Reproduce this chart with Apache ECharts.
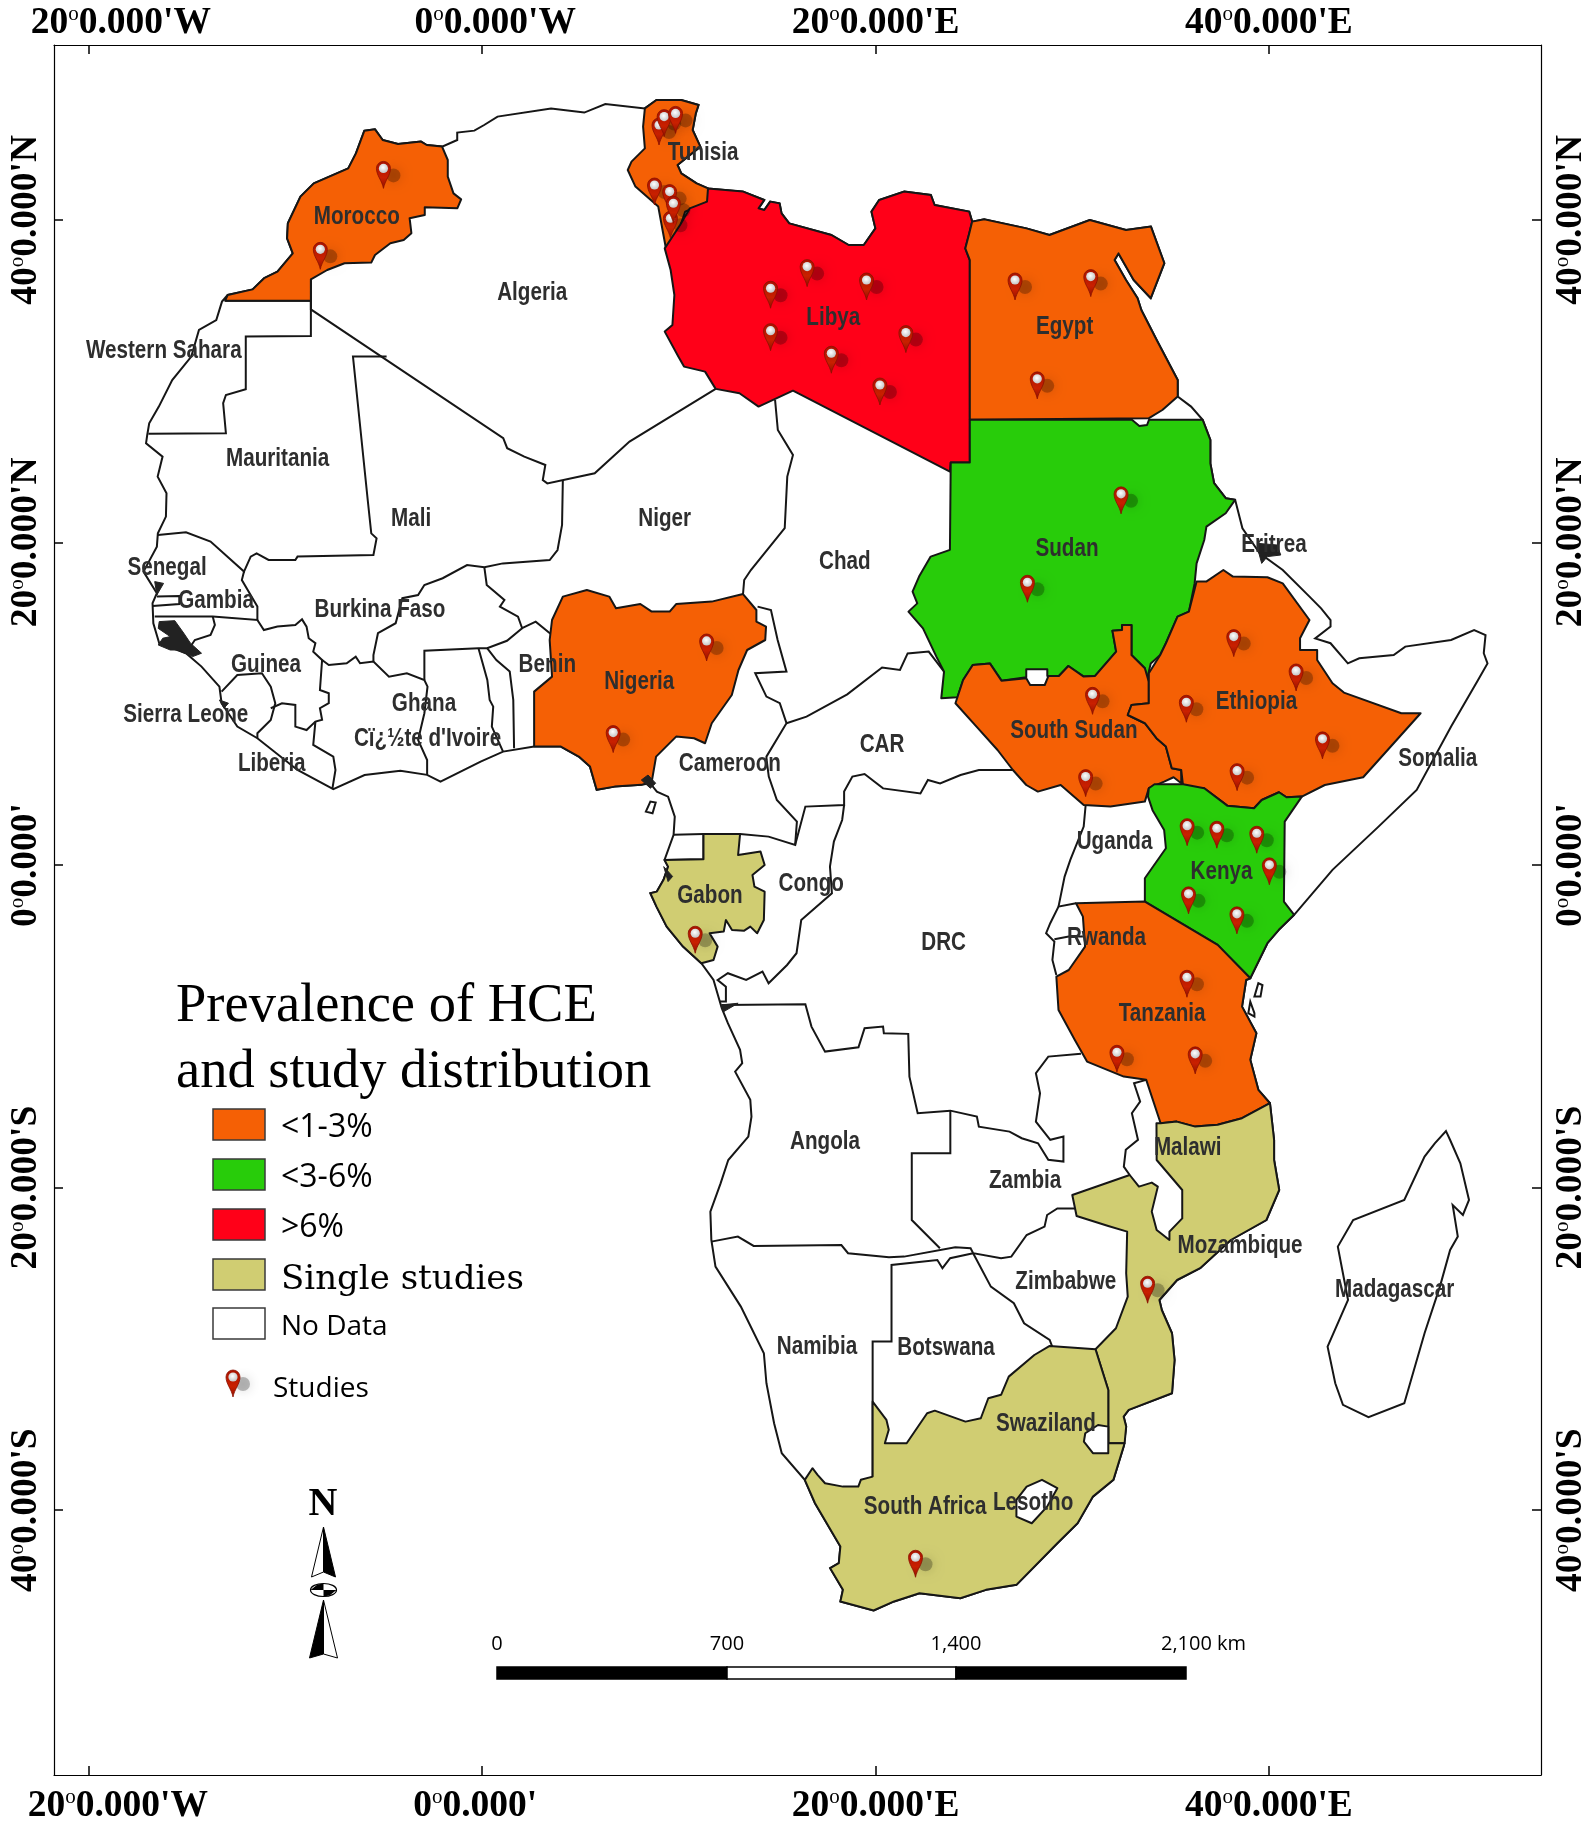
<!DOCTYPE html>
<html><head><meta charset="utf-8"><style>html,body{margin:0;padding:0;background:#fff}#c{width:1594px;height:1821px}</style>
<script src="https://cdn.jsdelivr.net/npm/echarts@6/dist/echarts.min.js"></script></head><body><div id="c"></div><script>
const africaCoast=[[-5.99,45.53],[-5.45,45.61],[-5.06,44.95],[-4.28,44.7],[-3.11,44.85],[-2.82,44.64],[-2.04,44.54],[-1.27,44.95],[-1.27,45.41],[-0.4,45.53],[0.1,45.88],[0.78,46.4],[3.5,46.91],[5.19,46.65],[6.26,47.18],[8.27,46.91],[8.86,47.43],[10.12,47.43],[11.0,47.12],[10.86,46.6],[10.7,45.57],[11.09,44.54],[9.93,43.4],[10.12,42.88],[10.9,42.26],[11.48,41.95],[13.27,41.75],[14.34,41.23],[14.05,40.71],[14.34,40.61],[14.64,41.13],[15.12,41.02],[15.22,40.4],[15.61,39.78],[17.75,39.06],[18.63,38.44],[19.4,38.44],[19.99,39.47],[19.79,40.51],[20.18,41.23],[21.45,41.75],[22.81,41.54],[23.0,40.92],[24.76,40.51],[24.91,39.89],[25.53,40.03],[27.67,39.47],[28.84,39.06],[30.89,39.99],[32.73,39.37],[34.0,39.58],[34.68,37.31],[33.99,35.14],[33.12,36.27],[32.35,37.92],[32.15,37.51],[32.73,36.27],[33.32,35.14],[33.51,34.41],[34.29,32.55],[35.36,30.07],[35.36,29.04],[36.04,28.42],[36.63,27.6],[37.02,26.36],[37.02,24.9],[37.21,23.67],[37.8,22.74],[38.28,22.64],[38.65,20.88],[39.53,19.32],[40.7,18.29],[42.06,16.64],[42.65,15.91],[43.13,15.19],[43.13,14.78],[42.35,14.05],[43.13,13.75],[44.01,12.5],[44.59,12.82],[46.34,13.02],[46.93,13.54],[49.26,13.95],[50.43,14.57],[51.01,14.26],[50.92,13.13],[51.11,12.5],[50.63,11.47],[49.26,8.58],[47.51,4.65],[45.57,2.38],[43.23,-0.3],[41.28,-3.09],[40.5,-4.02],[39.92,-4.85],[39.05,-7.02],[38.84,-7.13],[38.63,-8.78],[39.36,-10.43],[39.05,-12.08],[39.46,-13.94],[40.05,-14.77],[40.26,-17.05],[40.26,-18.29],[40.52,-20.15],[39.87,-22.01],[38.06,-23.25],[36.5,-25.0],[35.33,-25.73],[34.43,-26.97],[34.55,-27.59],[35.07,-29.03],[35.2,-30.69],[35.07,-32.75],[32.87,-33.78],[32.61,-34.2],[32.74,-34.82],[32.61,-36.06],[32.09,-38.12],[31.05,-39.16],[30.27,-40.81],[29.24,-42.05],[27.16,-44.63],[25.61,-44.94],[24.31,-45.46],[22.23,-45.15],[20.94,-45.66],[19.9,-46.22],[18.21,-45.66],[18.34,-44.94],[17.69,-43.6],[18.13,-43.29],[18.21,-42.25],[16.92,-39.57],[16.4,-38.12],[15.23,-36.47],[14.84,-34.61],[14.45,-32.13],[14.32,-30.27],[13.15,-27.38],[11.86,-24.9],[11.65,-23.25],[11.6,-21.49],[12.12,-19.74],[12.51,-18.29],[13.53,-16.84],[13.69,-15.6],[13.63,-14.56],[12.86,-12.81],[13.22,-12.29],[13.11,-11.46],[12.49,-9.81],[12.18,-8.88],[11.76,-7.13],[11.14,-6.09],[10.21,-5.06],[9.38,-3.82],[8.86,-2.58],[8.55,-1.75],[8.88,-1.65],[9.22,-0.92],[9.45,-0.1],[9.27,0.31],[9.73,1.87],[9.79,3.0],[9.45,4.24],[8.88,4.55],[8.54,5.07],[8.09,4.97],[6.73,4.86],[5.82,4.66],[5.48,6.1],[4.91,6.72],[4.0,7.34],[2.64,7.34],[1.06,7.03],[-0.08,6.41],[-2.12,5.17],[-2.8,5.59],[-4.16,5.85],[-5.98,5.58],[-7.57,4.7],[-9.39,5.89],[-11.43,7.86],[-12.45,8.58],[-13.25,10.03],[-13.36,11.06],[-14.27,12.3],[-15.06,13.13],[-16.42,13.75],[-16.72,14.99],[-16.76,16.23],[-16.54,16.85],[-17.22,18.19],[-16.54,19.74],[-16.49,20.56],[-16.08,21.6],[-16.05,23.05],[-16.5,24.08],[-16.25,25.32],[-17.09,26.15],[-17.03,26.66],[-16.93,27.39],[-16.44,28.42],[-15.76,30.07],[-14.79,31.52],[-14.4,33.17],[-13.52,33.79],[-13.23,34.93],[-12.94,35.34],[-11.67,35.69],[-11.09,36.38],[-10.41,36.79],[-9.63,37.92],[-9.92,38.85],[-9.88,39.79],[-9.24,41.44],[-8.56,42.26],[-6.81,43.19],[-6.42,44.12]];
const madagascar=[[49.0,-16.5],[49.21,-17.05],[49.73,-18.5],[50.17,-20.77],[49.86,-21.7],[49.34,-21.08],[49.6,-23.04],[49.21,-23.87],[48.69,-26.14],[47.91,-29.03],[46.88,-33.37],[45.06,-34.24],[43.76,-33.47],[43.37,-32.13],[42.98,-29.86],[44.02,-26.97],[43.5,-23.66],[44.28,-22.01],[46.88,-20.77],[47.91,-18.08],[48.43,-17.26]];
const bioko=[[8.32,3.31],[8.55,3.93],[8.82,3.87],[8.66,3.21]];
const pemba=[[39.26,-8.16],[39.46,-7.33],[39.67,-7.44],[39.57,-8.16]];
const zanzibar=[[38.95,-9.19],[39.05,-8.47],[39.26,-9.19],[39.26,-9.4]];

const morocco=[[-5.99,45.53],[-5.45,45.61],[-5.06,44.95],[-4.28,44.7],[-3.11,44.85],[-2.82,44.64],[-2.04,44.54],[-1.75,43.71],[-1.75,42.68],[-1.46,41.64],[-1.07,41.27],[-1.26,40.72],[-2.92,40.78],[-2.92,40.3],[-3.69,40.1],[-3.6,39.17],[-3.99,38.75],[-4.67,38.55],[-5.45,37.82],[-5.64,37.35],[-7.0,37.31],[-7.88,36.89],[-8.71,36.31],[-8.71,34.99],[-13.07,34.99],[-12.94,35.34],[-11.67,35.69],[-11.09,36.38],[-10.41,36.79],[-9.63,37.92],[-9.92,38.85],[-9.88,39.79],[-9.24,41.44],[-8.56,42.26],[-6.81,43.19],[-6.42,44.12]];
const tunisia=[[8.27,46.91],[8.86,47.43],[10.12,47.43],[11.0,47.12],[10.86,46.6],[10.7,45.57],[11.09,44.54],[9.93,43.4],[10.12,42.88],[10.9,42.26],[11.48,41.95],[11.48,41.13],[10.32,40.51],[10.12,39.79],[10.12,38.75],[9.34,38.24],[8.95,40.82],[7.79,42.06],[7.4,43.09],[7.59,43.61],[8.27,44.43],[8.18,45.78]];
const libya=[[11.48,41.95],[13.27,41.75],[14.34,41.23],[14.05,40.71],[14.34,40.61],[14.64,41.13],[15.12,41.02],[15.22,40.4],[15.61,39.78],[17.75,39.06],[18.63,38.44],[19.4,38.44],[19.99,39.47],[19.79,40.51],[20.18,41.23],[21.45,41.75],[22.81,41.54],[23.0,40.92],[24.76,40.51],[24.91,39.89],[24.76,39.16],[24.56,38.23],[24.79,37.5],[24.79,24.95],[23.82,24.95],[23.78,24.39],[15.8,29.41],[14.05,28.42],[13.08,29.25],[11.87,29.52],[11.33,30.59],[10.26,30.9],[9.97,31.52],[9.28,33.07],[9.67,33.48],[9.77,35.34],[9.58,36.89],[9.28,38.23],[10.06,39.68],[10.55,40.71],[11.43,41.13]];
const egypt=[[24.91,39.89],[25.53,40.03],[27.67,39.47],[28.84,39.06],[30.89,39.99],[32.73,39.37],[34.0,39.58],[34.68,37.31],[33.99,35.14],[33.12,36.27],[32.35,37.92],[32.15,37.51],[32.73,36.27],[33.32,35.14],[33.51,34.41],[34.29,32.55],[35.36,30.07],[35.36,29.04],[34.58,28.21],[33.9,27.7],[24.79,27.6],[24.79,37.5],[24.56,38.23],[24.76,39.16]];
const sudan=[[24.79,27.6],[33.03,27.6],[33.41,27.22],[33.8,27.28],[33.9,27.6],[36.63,27.6],[37.02,26.36],[37.02,24.9],[37.21,23.67],[37.8,22.74],[38.28,22.64],[37.8,21.81],[36.82,20.98],[36.71,20.15],[36.32,18.7],[36.22,17.46],[35.93,15.71],[35.35,15.4],[34.76,13.75],[34.47,13.02],[33.99,12.5],[33.79,11.47],[33.69,12.2],[33.01,13.02],[33.01,14.88],[32.53,14.88],[32.53,14.57],[32.04,14.53],[32.23,13.23],[31.16,11.72],[30.58,11.68],[29.8,12.34],[29.32,11.72],[28.73,11.72],[28.73,12.13],[27.66,12.13],[27.66,11.64],[26.4,11.43],[25.81,12.5],[24.94,12.4],[24.45,11.47],[24.16,10.4],[23.34,10.34],[23.48,11.99],[23.09,12.92],[22.41,14.67],[21.67,15.71],[22.12,16.22],[21.88,16.95],[22.21,17.88],[22.8,19.12],[23.78,19.54],[23.82,24.95],[24.79,24.95]];
const southSudan=[[24.94,12.4],[25.81,12.5],[26.4,11.43],[27.66,11.58],[27.86,11.16],[28.6,11.16],[28.79,11.72],[29.32,11.72],[29.8,12.34],[30.58,11.68],[31.16,11.72],[32.23,13.23],[32.04,14.53],[32.53,14.57],[32.53,14.88],[33.01,14.88],[33.01,13.02],[33.69,12.2],[33.89,11.37],[33.89,10.03],[33.01,9.92],[32.82,9.3],[33.69,8.79],[34.28,7.86],[34.76,7.34],[35.06,6.0],[35.54,5.89],[35.54,5.07],[35.15,5.44],[34.67,5.17],[33.89,4.76],[33.69,3.93],[31.94,3.62],[30.58,3.72],[29.41,4.96],[28.25,4.55],[27.66,4.96],[26.98,5.89],[26.2,7.13],[25.13,8.58],[24.06,10.03],[24.45,11.47]];
const ethiopia=[[36.32,17.57],[36.81,17.57],[37.68,18.29],[38.17,17.88],[39.92,17.84],[40.7,17.46],[42.06,15.19],[41.58,14.06],[41.58,13.33],[42.45,13.33],[42.45,12.71],[43.23,11.27],[43.81,10.69],[46.73,9.41],[47.71,9.41],[44.79,5.44],[42.84,4.96],[41.67,4.24],[40.89,4.2],[40.51,4.51],[39.63,4.03],[39.24,3.52],[37.88,3.68],[36.71,4.76],[35.64,4.82],[35.54,5.89],[35.06,6.0],[34.76,7.34],[34.28,7.86],[33.69,8.79],[32.82,9.3],[33.01,9.92],[33.89,10.03],[33.89,11.89],[34.47,13.02],[34.76,13.75],[35.35,15.4],[35.93,15.71]];
const kenya=[[33.89,4.76],[34.18,5.01],[35.64,5.01],[36.71,4.76],[37.88,3.68],[39.24,3.52],[39.63,4.03],[40.51,4.51],[40.89,4.2],[41.67,4.24],[40.8,2.69],[40.76,-2.27],[41.28,-3.09],[40.5,-4.02],[39.92,-4.85],[39.05,-7.02],[37.39,-4.95],[33.69,-2.27],[33.69,-0.82],[34.76,1.04],[34.67,2.17],[34.08,3.4],[33.85,4.24]];
const tanzania=[[30.19,-2.37],[33.69,-2.27],[37.39,-4.95],[39.05,-7.02],[38.84,-7.13],[38.63,-8.78],[39.36,-10.43],[39.05,-12.08],[39.46,-13.94],[40.05,-14.77],[38.63,-15.7],[37.39,-16.11],[36.25,-16.22],[35.31,-15.91],[34.49,-16.01],[33.76,-13.32],[32.62,-13.12],[30.75,-12.19],[30.13,-10.85],[29.3,-8.99],[29.19,-6.92],[29.82,-6.51],[30.65,-5.06],[30.54,-3.2]];
const nigeria=[[4.1,16.64],[5.32,17.05],[6.46,16.64],[6.8,15.92],[8.04,16.18],[8.62,15.71],[9.53,15.71],[9.86,16.18],[11.67,16.33],[13.26,16.8],[13.94,15.81],[13.94,15.09],[14.43,14.78],[14.39,13.95],[13.47,13.33],[13.03,12.09],[12.69,10.54],[11.67,8.79],[11.33,7.55],[10.77,7.86],[9.86,7.96],[8.84,6.72],[8.62,5.17],[8.09,4.97],[6.73,4.86],[5.82,4.66],[5.48,6.1],[4.91,6.72],[4.0,7.34],[2.64,7.34],[2.64,10.75],[3.55,11.68],[3.43,13.95],[3.55,15.19]];
const gabon=[[11.25,1.92],[13.11,1.92],[13.01,0.62],[14.15,0.83],[14.36,0.0],[13.74,-0.62],[13.84,-1.34],[14.36,-1.65],[14.32,-3.41],[13.98,-4.23],[13.63,-3.82],[13.32,-4.07],[12.7,-4.03],[12.39,-3.41],[12.28,-4.13],[11.56,-4.23],[11.97,-5.06],[11.76,-5.89],[11.14,-6.09],[10.21,-5.06],[9.38,-3.82],[8.86,-2.58],[8.55,-1.75],[8.88,-1.65],[9.22,-0.92],[9.45,-0.1],[9.27,0.31],[11.25,0.35]];
const mozambique=[[34.28,-16.01],[34.49,-16.01],[35.31,-15.91],[36.25,-16.22],[37.39,-16.11],[38.63,-15.7],[40.05,-14.77],[40.26,-17.05],[40.26,-18.29],[40.52,-20.15],[39.87,-22.01],[38.06,-23.25],[36.5,-25.0],[35.33,-25.73],[34.43,-26.97],[34.55,-27.59],[35.07,-29.03],[35.2,-30.69],[35.07,-32.75],[32.87,-33.78],[32.61,-34.2],[32.74,-34.82],[32.66,-35.85],[31.83,-35.85],[31.83,-32.55],[31.18,-30.02],[32.22,-28.72],[32.82,-26.76],[32.74,-25.31],[32.79,-22.73],[31.83,-22.38],[30.22,-21.76],[30.0,-20.46],[32.92,-19.22],[33.39,-19.94],[34.04,-19.69],[34.35,-19.94],[34.04,-21.49],[34.29,-22.63],[34.94,-23.25],[34.94,-22.73],[35.59,-21.91],[35.59,-20.15],[34.29,-18.29]];
const southAfrica=[[19.85,-33.27],[20.55,-34.4],[20.67,-35.02],[20.47,-35.85],[21.58,-35.85],[22.62,-33.99],[23.01,-33.83],[24.57,-34.51],[25.35,-34.3],[25.73,-33.06],[26.38,-32.85],[26.77,-31.72],[28.07,-30.38],[28.85,-29.82],[31.18,-30.02],[31.83,-32.55],[31.83,-35.85],[32.66,-35.85],[32.61,-36.06],[32.09,-38.12],[31.05,-39.16],[30.27,-40.81],[29.24,-42.05],[27.16,-44.63],[25.61,-44.94],[24.31,-45.46],[22.23,-45.15],[20.94,-45.66],[19.9,-46.22],[18.21,-45.66],[18.34,-44.94],[17.69,-43.6],[18.13,-43.29],[18.21,-42.25],[16.92,-39.57],[16.4,-38.12],[16.79,-37.4],[17.05,-37.81],[17.43,-38.33],[18.34,-38.54],[19.12,-38.54],[19.25,-38.12],[19.85,-37.92]];
const lesotho=[[28.46,-38.12],[29.24,-38.64],[28.72,-39.78],[27.94,-40.81],[27.16,-40.4],[27.16,-39.36],[27.68,-38.54]];
const swaziland=[[31.31,-34.72],[31.83,-34.82],[31.83,-36.47],[31.05,-36.47],[30.59,-35.75],[30.66,-35.23]];

const westernSaharaBorder=[[-13.07,34.99],[-8.71,34.99],[-8.71,32.8],[-12.02,32.76],[-12.02,29.5],[-13.03,29.14],[-13.17,28.63],[-13.03,26.77],[-16.97,26.73]];
const algeriaSouthBorder=[[-8.71,36.31],[-8.71,34.45],[1.07,26.46],[1.27,25.84],[2.14,25.32],[3.21,24.8],[3.08,23.87],[3.31,23.66],[5.72,24.29],[7.49,26.25],[11.87,29.52]];
const maliWestBorder=[[-4.86,31.52],[-6.57,31.52],[-5.82,22.63],[-5.64,20.56],[-5.37,20.25],[-5.53,19.22],[-9.39,19.12],[-9.5,18.91],[-10.86,18.91],[-11.47,19.32],[-11.77,19.12],[-12.11,18.19],[-13.81,20.05],[-15.06,20.63],[-16.49,20.46]];
const senegalSouthBorder=[[-12.11,18.19],[-12.22,17.67],[-11.43,16.02],[-11.43,15.19],[-13.7,15.4],[-16.65,15.4]];
const gambiaBorder=[[-16.54,16.64],[-15.4,16.68],[-15.4,16.18],[-16.76,16.06]];
const bissauBorder=[[-13.7,15.4],[-13.59,14.88],[-13.81,14.26],[-14.61,13.95],[-15.06,13.13]];
const guineaBorder=[[-11.43,15.19],[-11.1,14.57],[-10.41,14.78],[-9.5,14.88],[-9.16,15.23],[-8.93,14.78],[-8.82,14.06],[-8.48,13.75],[-8.59,13.23],[-8.14,12.71],[-8.25,10.85],[-7.8,10.65],[-7.8,10.03],[-8.25,9.72],[-8.14,9.0],[-8.48,8.89],[-8.93,8.37],[-9.5,8.58],[-9.5,9.92],[-10.18,10.03],[-10.75,9.72]];
const sierraLeoneBorder=[[-13.25,10.75],[-12.45,11.78],[-11.2,11.89],[-10.75,11.06],[-10.52,10.03],[-10.75,8.99],[-11.43,8.17],[-11.43,7.86]];
const liberiaBorder=[[-8.48,8.89],[-8.59,7.45],[-7.57,6.72],[-7.46,5.89],[-7.62,4.7]];
const ivoryNorthBorder=[[-8.14,12.71],[-7.8,12.4],[-6.89,12.51],[-6.43,12.92],[-6.21,12.51],[-5.53,12.61],[-4.74,11.68],[-3.83,11.89],[-2.94,11.47],[-2.78,11.06],[-2.94,9.41],[-3.26,7.75],[-2.8,6.51],[-2.8,5.59]];
const burkinaWestBorder=[[-5.53,12.61],[-5.53,13.02],[-5.3,14.37],[-4.4,14.99],[-4.06,16.54],[-3.26,16.74],[-2.94,17.36],[-2.01,17.78],[-0.77,18.6],[0.11,18.46],[1.05,18.7],[3.43,18.91],[3.83,19.53],[4.06,21.08],[4.1,23.87]];
const burkinaEastBorder=[[0.11,18.46],[0.23,17.36],[1.13,16.43],[0.9,16.02],[1.82,15.4],[2.03,14.68],[2.72,15.09],[3.55,14.26]];
const burkinaSouthBorder=[[2.03,14.68],[1.26,13.9],[0.25,13.44],[-0.19,13.44],[-2.94,13.29],[-2.94,11.47]];
const ghanaEastBorder=[[-0.19,13.44],[0.26,11.47],[0.38,10.23],[0.56,9.82],[0.49,8.58],[1.06,7.03]];
const togoEastBorder=[[0.25,13.44],[0.72,12.71],[1.4,11.99],[1.58,10.23],[1.62,7.24]];
const nigerEastBorder=[[14.89,28.83],[15.03,26.97],[15.8,25.42],[15.51,24.08],[15.38,20.88],[13.66,18.29],[13.32,17.67],[13.26,16.8]];
const cameroonChadBorder=[[14,16.02],[14.68,15.81],[15.02,13.95],[15.47,11.99],[13.88,11.89],[14.45,10.44],[15.13,10.03],[15.47,8.79],[14.45,6.72],[14.46,6.51],[14.57,5.48],[14.98,4.03],[16.0,2.69],[15.91,1.24],[14.56,1.76],[13.11,1.92]];
const cameroonSouthBorder=[[9.73,1.87],[11.25,1.92]];
const eqGuineaBorder=[[11.25,1.92],[11.25,0.35],[9.27,0.31]];
const chadSouthBorder=[[15.47,8.79],[16.49,9.2],[18.56,10.58],[20.33,12.24],[21.24,12.09],[21.63,13.12],[22.7,13.23],[23.48,11.99]];
const carSouthBorder=[[26.98,5.89],[25.25,5.89],[24.32,5.58],[23.28,5.06],[22.66,5.27],[22.28,4.44],[20.38,4.75],[19.44,5.64],[18.82,5.48],[18.4,4.55],[18.4,3.72],[16.43,3.62],[15.91,1.24]];
const congoDrcBorder=[[18.4,3.72],[18.3,2.79],[17.88,1.45],[17.68,-0.1],[17.78,-1.75],[16.22,-3.41],[15.98,-5.47],[15.5,-6.2],[14.56,-7.33],[14.25,-6.61],[13.42,-7.13],[12.49,-6.71],[11.97,-7.13],[12.39,-7.54],[12.39,-8.47],[12.07,-8.47]];
const angolaDrcBorder=[[12.18,-8.68],[16.43,-8.63],[16.74,-10.02],[17.43,-11.57],[19.13,-11.3],[19.44,-10.12],[20.38,-10.02],[20.42,-10.43],[21.66,-10.47],[21.72,-13.12],[22.14,-15.39],[23.8,-15.23],[25.15,-15.6],[25.25,-16.22],[26.81,-16.53],[27.43,-16.94],[28.26,-17.25],[28.78,-18.28],[29.55,-18.39],[29.55,-16.84],[28.88,-17.04],[28.15,-15.91],[28.36,-14.15],[28.15,-12.91],[28.78,-11.88],[30.44,-11.71]];
const angolaZambiaBorder=[[23.8,-15.23],[23.8,-17.87],[21.84,-17.87],[21.84,-22.01],[23.27,-23.76]];
const namibiaNorthBorder=[[11.65,-23.35],[13.0,-23.04],[13.8,-23.62],[18.26,-23.56],[18.6,-24.07],[20.68,-24.32],[21.45,-24.28],[24.05,-23.7],[24.83,-23.76],[24.96,-24.07],[26.38,-24.38],[26.9,-24.28],[27.68,-22.94],[28.59,-22.42],[28.72,-21.7],[29.24,-21.29],[30.14,-21.29]];
const botswanaWestBorder=[[24.96,-24.07],[23.79,-24.38],[23.4,-25.0],[23.14,-24.49],[20.81,-24.8],[20.81,-29.55],[19.85,-29.55],[19.85,-37.92]];
const botswanaEastBorder=[[24.96,-24.07],[25.86,-26.14],[27.03,-27.17],[27.55,-28.41],[28.85,-29.45],[28.98,-29.86]];
const malawiWestBorder=[[33.76,-13.32],[33.14,-13.53],[33.45,-14.67],[33.03,-15.39],[33.34,-17.04],[32.72,-17.66],[32.62,-18.7],[32.92,-19.22]];
const ugandaWestBorder=[[30.68,3.72],[30.58,2.38],[29.9,0.32],[29.61,-0.72],[29.3,-2.58]];
const burundiBorder=[[30.19,-2.37],[29.3,-2.58],[28.88,-3.61],[28.67,-4.23],[29.09,-4.75],[28.99,-5.89],[29.19,-6.82]];
const rwandaBorder=[[29.09,-4.6],[29.82,-4.44],[30.54,-4.44]];

const coastBlots=[
 [[-16.42,15.09],[-15.63,15.15],[-15.17,14.37],[-14.83,13.75],[-14.27,13.13],[-14.72,12.92],[-15.51,13.33],[-15.86,13.33],[-16.47,13.64],[-16.24,14.06],[-15.86,14.16],[-16.47,14.67]],
 [[-16.65,17.57],[-16.2,17.46],[-16.54,16.74]],
 [[-13.36,10.23],[-12.9,10.03],[-13.13,9.72]],
 [[8.09,5.27],[8.43,5.58],[8.82,5.07],[8.55,4.76]],
 [[9.23,-0.1],[9.68,-0.71],[9.45,-1.03]],
 [[12.12,-8.68],[13.01,-8.57],[12.28,-9.09]],
 [[39.44,19.94],[40.41,19.84],[40.6,19.22],[39.92,19.12],[39.63,18.7],[39.49,19.32]]
];

const tierColors={low:'#F56005',mid:'#28CC0A',high:'#FF0018',single:'#D0CD72',none:'#ffffff'};
const regionNames=['Morocco','Tunisia','Libya','Egypt','Sudan','South Sudan','Ethiopia','Kenya','Tanzania','Nigeria','Gabon','Mozambique','South Africa','Lesotho','Swaziland'];
const regionRings=[morocco,tunisia,libya,egypt,sudan,southSudan,ethiopia,kenya,tanzania,nigeria,gabon,mozambique,southAfrica,lesotho,swaziland];
const regionTiers=['low','low','high','low','mid','low','low','mid','low','low','single','single','single','none','none'];

const labelNames=['Morocco','Algeria','Tunisia','Libya','Egypt','Western Sahara','Mauritania','Mali','Niger','Chad','Sudan','Eritrea','Senegal','Gambia','Burkina Faso','Benin','Nigeria','Guinea','Ghana','Sierra Leone',"Cï¿½te d'Ivoire",'Liberia','Cameroon','CAR','South Sudan','Ethiopia','Somalia','Uganda','Kenya','Congo','Gabon','DRC','Rwanda','Tanzania','Angola','Malawi','Zambia','Mozambique','Zimbabwe','Madagascar','Namibia','Botswana','Swaziland','South Africa','Lesotho'];
const labelPoints=[[-6.38,40.32],[2.54,35.56],[11.23,44.28],[17.85,34.05],[29.61,33.48],[-16.19,31.97],[-10.4,25.27],[-3.61,21.6],[9.28,21.6],[18.44,18.93],[29.73,19.73],[40.25,19.94],[-16.02,18.57],[-13.53,16.49],[-5.2,15.91],[3.31,12.53],[7.98,11.45],[-10.99,12.53],[-2.96,10.08],[-15.07,9.43],[-2.78,7.92],[-10.7,6.41],[12.59,6.41],[20.33,7.56],[30.08,8.42],[39.36,10.22],[48.58,6.7],[32.15,1.58],[37.59,-0.29],[16.73,-1.08],[11.58,-1.8],[23.46,-4.68],[31.74,-4.39],[34.57,-9.14],[17.43,-17.06],[35.87,-17.42],[27.6,-19.44],[38.53,-23.47],[29.67,-25.7],[46.39,-26.2],[17.02,-29.73],[23.58,-29.81],[28.66,-34.56],[22.52,-39.67],[28.01,-39.45]];

const studyPins=[[-5.02,41.95],[-8.23,36.93],[8.99,44.64],[9.25,45.16],[9.83,45.36],[8.76,40.92],[9.53,40.51],[9.57,38.86],[9.72,39.79],[16.52,35.86],[14.66,34.52],[19.54,35.03],[14.66,31.89],[17.75,30.49],[21.54,31.77],[20.22,28.52],[27.09,35.03],[30.94,35.24],[28.22,28.9],[32.48,21.77],[27.72,16.29],[38.21,12.92],[41.38,10.79],[35.8,8.85],[42.72,6.58],[38.38,4.61],[31.03,9.34],[30.68,4.24],[35.84,1.2],[37.35,1.04],[39.38,0.73],[40.02,-1.23],[35.91,-3.03],[38.37,-4.27],[35.83,-8.2],[32.27,-12.85],[36.25,-12.95],[10.83,-5.47],[11.41,12.65],[6.66,6.97],[33.83,-27.17],[22.03,-44.16]];

const lonTicks=[-20,0,20,40];
const topLabels=["20|0.000'W","0|0.000'W","20|0.000'E","40|0.000'E"];
const bottomLabels=["20|0.000'W","0|0.000'","20|0.000'E","40|0.000'E"];
const latTicks=[-40,-20,0,20,40];
const latLabels=["40|0.000'S","20|0.000'S","0|0.000'","20|0.000'N","40|0.000'N"];
const legendTitle=['Prevalence of HCE','and study distribution'];
const legendNames=['<1-3%','<3-6%','>6%','Single studies','No Data'];
const legendKeys=['low','mid','high','single','none'];
const scaleMarks=['0','700','1,400','2,100 km'];

const lineColor='#161616';
const LON_MIN=-21.77,LON_MAX=53.83,LAT_MIN=-56.42,LAT_MAX=50.84;

echarts.graphic.registerShape('studyPin',echarts.graphic.extendShape({shape:{},buildPath(ctx){
 ctx.moveTo(0,0);ctx.bezierCurveTo(-1.5,-8,-7,-13,-7,-20);ctx.arc(0,-20,7,Math.PI,0,false);ctx.bezierCurveTo(7,-13,1.5,-8,0,0);ctx.closePath();}}));

function deg(txt,padL,padR){const p=txt.split('|');return (padL?'{pad'+padL+'| }':'')+'{b|'+p[0]+'}{o|o}{b|'+p[1]+'}'+(padR?'{pad'+padR+'| }':'');}
const rich={b:{fontFamily:'"Liberation Serif"',fontWeight:'bold',fontSize:37.5,color:'#000'},o:{fontFamily:'"Liberation Serif"',fontSize:21,color:'#000',verticalAlign:'top',lineHeight:30},pad64:{width:64},pad26:{width:26},pad58:{width:58},pad14:{width:14},pad10:{width:10}};
function xAxis(pos,labels,pad,margin){return {type:'value',position:pos,min:LON_MIN,max:LON_MAX,splitLine:{show:false},
 axisLine:{show:true,onZero:false,lineStyle:{color:'#000',width:1.2}},
 axisTick:{show:true,inside:true,length:9,customValues:lonTicks,lineStyle:{color:'#000',width:1.5}},
 axisLabel:{show:true,margin,customValues:lonTicks,showMinLabel:true,showMaxLabel:true,rich,formatter:v=>{const i=lonTicks.indexOf(v);const q=pad[i]||[0,0];return deg(labels[i],q[0],q[1]);}}};}
function yAxis(pos,margin){return {type:'value',position:pos,min:LAT_MIN,max:LAT_MAX,splitLine:{show:false},
 axisLine:{show:true,onZero:false,lineStyle:{color:'#000',width:1.2}},
 axisTick:{show:true,inside:true,length:9,customValues:latTicks,lineStyle:{color:'#000',width:1.5}},
 axisLabel:{show:true,rotate:90,margin,customValues:latTicks,rich,formatter:v=>deg(latLabels[latTicks.indexOf(v)])}};}

function ringSeries(name,rings,styleOf,z,closed){
 return {type:'custom',name,coordinateSystem:'cartesian2d',z,silent:true,clip:false,animation:false,
  data:rings.map((r,i)=>({name:String(i),value:[r[0][0],r[0][1],i]})),
  renderItem(params,api){const i=api.value(2);const pts=rings[i].map(p=>api.coord(p));
   return {type:closed?'polygon':'polyline',shape:{points:pts},style:styleOf(i)};}};
}
const landRings=[africaCoast,madagascar,bioko,pemba,zanzibar];
const borderLines=[westernSaharaBorder,algeriaSouthBorder,maliWestBorder,senegalSouthBorder,gambiaBorder,bissauBorder,guineaBorder,sierraLeoneBorder,liberiaBorder,ivoryNorthBorder,burkinaWestBorder,burkinaEastBorder,burkinaSouthBorder,ghanaEastBorder,togoEastBorder,nigerEastBorder,cameroonChadBorder,cameroonSouthBorder,eqGuineaBorder,chadSouthBorder,carSouthBorder,congoDrcBorder,angolaDrcBorder,angolaZambiaBorder,namibiaNorthBorder,botswanaWestBorder,botswanaEastBorder,malawiWestBorder,ugandaWestBorder,burundiBorder,rwandaBorder];
function pinChildren(){return [
 {type:'circle',shape:{cx:10,cy:-13,r:7},style:{fill:'rgba(0,0,0,0.26)',shadowBlur:12,shadowColor:'rgba(0,0,0,0.6)'}},
 {type:'studyPin',shape:{},style:{fill:{type:'linear',x:0,y:0,x2:0,y2:1,colorStops:[{offset:0,color:'#a81200'},{offset:.6,color:'#c92000'},{offset:1,color:'#8f1000'}]},stroke:'#8a1000',lineWidth:.8}},
 {type:'circle',shape:{cx:0,cy:-20,r:4.6},style:{fill:{type:'radial',x:.45,y:.4,r:.6,colorStops:[{offset:0,color:'#ffffff'},{offset:1,color:'#c4c4c4'}]}}}
];}

const swatchX=213,swatchYs=[1109,1159,1209,1259,1308],labelX=281;
const legendFonts=['32px "Open Sans"','32px "Open Sans"','32px "Open Sans"','34px "DejaVu Serif"','28px "Open Sans"'];
const legendNudge=[19,19,19,21,19];
const graphic=[];
legendTitle.forEach((t,i)=>graphic.push({type:'text',z:20,style:{text:t,x:176,y:[1034,1100][i],font:'54.5px "Liberation Serif"',fill:'#000',textVerticalAlign:'bottom'}}));
legendNames.forEach((t,i)=>{
 graphic.push({type:'rect',z:20,shape:{x:swatchX,y:swatchYs[i],width:52,height:31},style:{fill:tierColors[legendKeys[i]],stroke:'#3a3a3a',lineWidth:1.5}});
 graphic.push({type:'text',z:20,style:{text:t,x:labelX,y:swatchYs[i]+legendNudge[i],font:legendFonts[i],fill:'#000',textVerticalAlign:'middle'}});
});
graphic.push({type:'group',z:20,x:233,y:1397,children:pinChildren()});
graphic.push({type:'text',z:20,style:{text:'Studies',x:273,y:1389,font:'28px "Open Sans"',fill:'#000',textVerticalAlign:'middle'}});
// north arrow
graphic.push({type:'text',z:20,style:{text:'N',x:323,y:1505,font:'bold 40px "Liberation Serif"',fill:'#000',textAlign:'center',textVerticalAlign:'middle'}});
const ax=323.5;
[[[ax,1527],[ax-12,1577],[ax,1572]],[[ax,1527],[ax+12,1577],[ax,1572]]].forEach((pts,i)=>graphic.push({type:'polygon',z:20,shape:{points:pts},style:{fill:i?'#000':'#fff',stroke:'#000',lineWidth:1}}));
[[[ax,1600],[ax-14,1658],[ax,1654]],[[ax,1600],[ax+14,1658],[ax,1654]]].forEach((pts,i)=>graphic.push({type:'polygon',z:20,shape:{points:pts},style:{fill:i?'#fff':'#000',stroke:'#000',lineWidth:1}}));
graphic.push({type:'ellipse',z:20,shape:{cx:ax,cy:1590,rx:13,ry:6.5},style:{fill:'#fff',stroke:'#000',lineWidth:1.2}});
graphic.push({type:'polygon',z:20,shape:{points:[[ax-13,1590],[ax,1590],[ax,1583.5],[ax-6,1584.5]]},style:{fill:'#000'}});
graphic.push({type:'polygon',z:20,shape:{points:[[ax+13,1590],[ax,1590],[ax,1596.5],[ax+6,1595.5]]},style:{fill:'#000'}});
// scale bar
const barX=[497,727,956,1186];
[0,1,2].forEach(i=>graphic.push({type:'rect',z:20,shape:{x:barX[i],y:1667,width:barX[i+1]-barX[i],height:12},style:{fill:i===1?'#fff':'#000',stroke:'#000',lineWidth:1.5}}));
scaleMarks.forEach((t,i)=>graphic.push({type:'text',z:20,style:{text:t,x:i===3?1161:barX[i],y:1644,font:'20px "Open Sans"',fill:'#000',textAlign:i===3?'left':'center',textVerticalAlign:'middle'}}));

const chart=echarts.init(document.getElementById('c'),null,{renderer:'canvas',width:1594,height:1821});
chart.setOption({backgroundColor:'#fff',animation:false,
 grid:{left:54,right:53,top:45,bottom:46,show:false,outerBoundsMode:'none'},
 xAxis:[xAxis('top',topLabels,[[64,0],[26,0]],3),xAxis('bottom',bottomLabels,[[58,0],[0,14]],12)],
 yAxis:[yAxis('left',9),yAxis('right',11)],
 series:[
  ringSeries('land',landRings,()=>({fill:'#fff',stroke:lineColor,lineWidth:2}),2,true),
  ringSeries('borders',borderLines,()=>({fill:'none',stroke:lineColor,lineWidth:2}),3,false),
  ringSeries('countries',regionRings,i=>({fill:tierColors[regionTiers[i]],stroke:lineColor,lineWidth:2,lineJoin:'round'}),4,true),
  ringSeries('coast detail',coastBlots,()=>({fill:'#222',stroke:'#222',lineWidth:1}),5,true),
  {type:'custom',name:'Studies',coordinateSystem:'cartesian2d',z:6,silent:true,clip:false,animation:false,
   data:studyPins,renderItem(params,api){const p=api.coord([api.value(0),api.value(1)]);return {type:'group',x:p[0],y:p[1],children:pinChildren()};}},
  {type:'custom',name:'labels',coordinateSystem:'cartesian2d',z:7,silent:true,clip:false,animation:false,
   data:labelNames.map((n,i)=>({name:n,value:[labelPoints[i][0],labelPoints[i][1],i]})),
   renderItem(params,api){const p=api.coord([api.value(0),api.value(1)]);
    return {type:'text',x:p[0],y:p[1]+2,scaleX:.81,originX:0,originY:0,style:{text:labelNames[api.value(2)],font:'bold 25.5px "Liberation Sans"',fill:'#2e2e2e',textAlign:'center',textVerticalAlign:'middle'}};}}
 ],
 graphic:{elements:graphic}
});
</script></body></html>
